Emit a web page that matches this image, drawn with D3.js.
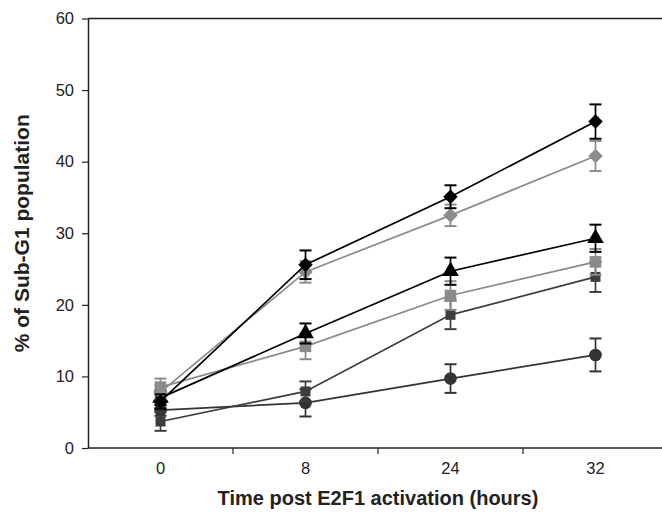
<!DOCTYPE html>
<html>
<head>
<meta charset="utf-8">
<script src="https://cdn.jsdelivr.net/npm/d3@7"></script>
<style>
 body { margin: 0; background: #fff; }
 text { font-family: "Liberation Sans", Arial, sans-serif; }
</style>
</head>
<body>
<script>
 // categories on the x axis (hours)
 const times = ["0", "8", "24", "32"];
 const yTicks = [0, 10, 20, 30, 40, 50, 60];

 // series values, with error (+/-)
 const circleVals = [5.3, 6.3, 9.7, 13.0];
 const circleErr = [0.8, 1.9, 2.0, 2.3];
 const darkSquareVals = [3.7, 7.9, 18.6, 23.9];
 const darkSquareErr = [1.3, 1.4, 2.0, 2.1];
 const graySquareVals = [8.5, 14.2, 21.3, 26.0];
 const graySquareErr = [1.2, 1.8, 2.0, 1.8];
 const triangleVals = [7.0, 16.0, 24.7, 29.3];
 const triangleErr = [1.0, 1.4, 1.9, 1.9];
 const grayDiamondVals = [7.8, 24.6, 32.5, 40.8];
 const grayDiamondErr = [1.0, 1.5, 1.5, 2.1];
 const blackDiamondVals = [6.5, 25.6, 35.1, 45.6];
 const blackDiamondErr = [1.0, 2.0, 1.6, 2.4];

 const series = [
    {vals: circleVals, err: circleErr, shape: d3.symbolCircle, size: 125, colour: "#333333"},
    {vals: darkSquareVals, err: darkSquareErr, shape: d3.symbolSquare, size: 100, colour: "#3d3d3d"},
    {vals: graySquareVals, err: graySquareErr, shape: d3.symbolSquare, size: 135, colour: "#8a8a8a"},
    {vals: triangleVals, err: triangleErr, shape: d3.symbolTriangle, size: 120, colour: "#000000"},
    {vals: grayDiamondVals, err: grayDiamondErr, shape: d3.symbolDiamond2, size: 135, colour: "#8c8c8c"},
    {vals: blackDiamondVals, err: blackDiamondErr, shape: d3.symbolDiamond2, size: 135, colour: "#000000"}
 ];

 const width = 662, height = 514;
 const margin = {top: 18.5, left: 88, bottom: 66, right: -6};
 const axisCol = "#222";

 const svg = d3.select("body").append("svg")
    .attr("width", width)
    .attr("height", height);

 const x = d3.scaleBand()
    .domain(times)
    .range([margin.left, width - margin.right]);

 const y = d3.scaleLinear()
    .domain([0, 60])
    .range([height - margin.bottom, margin.top]);

 // top border of the plot area
 svg.append("line")
    .attr("x1", margin.left).attr("x2", width)
    .attr("y1", y(60)).attr("y2", y(60))
    .attr("stroke", axisCol).attr("stroke-width", 1.5);

 const yAxis = d3.axisLeft(y)
    .tickValues(yTicks)
    .tickSize(6)
    .tickPadding(8)
    .tickSizeOuter(0);

 svg.append("g")
    .attr("transform", `translate(${margin.left},0)`)
    .call(yAxis)
    .call(g => g.select(".domain").attr("stroke", axisCol).attr("stroke-width", 1.5))
    .call(g => g.selectAll(".tick line").attr("stroke", axisCol).attr("stroke-width", 1.2))
    .call(g => g.selectAll(".tick text").attr("font-size", 16.5).attr("fill", axisCol)
       .attr("font-family", "Liberation Sans, Arial, sans-serif"));

 // x axis: labels centred in bands, tick marks on band boundaries
 const xg = svg.append("g")
    .attr("transform", `translate(0,${y(0)})`);
 xg.append("line")
    .attr("x1", margin.left).attr("x2", width)
    .attr("stroke", axisCol).attr("stroke-width", 1.5);
 xg.selectAll("line.tk")
    .data(times.slice(1))
    .enter().append("line")
    .attr("class", "tk")
    .attr("x1", d => x(d)).attr("x2", d => x(d))
    .attr("y1", 0).attr("y2", 6)
    .attr("stroke", axisCol).attr("stroke-width", 1.2);
 xg.selectAll("text")
    .data(times)
    .enter().append("text")
    .attr("x", d => x(d) + x.bandwidth() / 2)
    .attr("y", 26)
    .attr("text-anchor", "middle")
    .attr("font-size", 16.5)
    .attr("fill", axisCol)
    .text(d => d);

 const cx = i => x(times[i]) + x.bandwidth() / 2;

 series.forEach(s => {
    const g = svg.append("g");
    const line = d3.line()
       .x((d, i) => cx(i))
       .y(d => y(d));
    g.append("path")
       .attr("d", line(s.vals))
       .attr("fill", "none")
       .attr("stroke", s.colour)
       .attr("stroke-width", 1.7);

    s.vals.forEach((v, i) => {
       const hi = y(v + s.err[i]), lo = y(v - s.err[i]);
       g.append("line")
          .attr("x1", cx(i)).attr("x2", cx(i))
          .attr("y1", hi).attr("y2", lo)
          .attr("stroke", s.colour).attr("stroke-width", 1.7);
       [hi, lo].forEach(yy => {
          g.append("line")
             .attr("x1", cx(i) - 6).attr("x2", cx(i) + 6)
             .attr("y1", yy).attr("y2", yy)
             .attr("stroke", s.colour).attr("stroke-width", 2);
       });
    });

    g.selectAll("path.mk")
       .data(s.vals)
       .enter().append("path")
       .attr("class", "mk")
       .attr("d", d3.symbol().type(s.shape).size(s.size))
       .attr("transform", (d, i) => `translate(${cx(i)},${y(d)})`)
       .attr("fill", s.colour);
 });

 svg.append("text")
    .attr("transform", `translate(29,${(y(0) + y(60)) / 2}) rotate(-90)`)
    .attr("text-anchor", "middle")
    .attr("font-size", 21)
    .attr("font-weight", "bold")
    .attr("fill", axisCol)
    .text("% of Sub-G1 population");

 svg.append("text")
    .attr("x", 378)
    .attr("y", 505)
    .attr("text-anchor", "middle")
    .attr("font-size", 20)
    .attr("font-weight", "bold")
    .attr("fill", axisCol)
    .text("Time post E2F1 activation (hours)");
</script>
</body>
</html>
